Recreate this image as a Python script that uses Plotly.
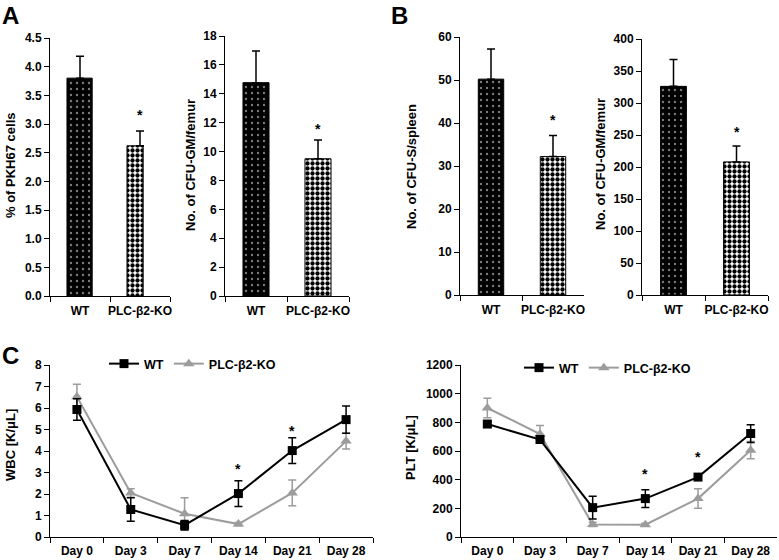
import plotly.graph_objects as go

W, H = 779, 560
FONT = "Liberation Sans, Arial, sans-serif"

# ---------------- data ----------------
groups = ["WT", "PLC-β2-KO"]
pkh67_mean = [3.80, 2.62]
pkh67_err = [0.38, 0.26]
cfugm_a_mean = [14.77, 9.5]
cfugm_a_err = [2.2, 1.3]
cfus_mean = [50.2, 32.2]
cfus_err = [7.0, 4.9]
cfugm_b_mean = [326, 208]
cfugm_b_err = [42, 25]

days = ["Day 0", "Day 3", "Day 7", "Day 14", "Day 21", "Day 28"]
wbc_wt = [5.93, 1.28, 0.55, 2.02, 4.02, 5.46]
wbc_wt_err = [0.5, 0.55, 0.22, 0.6, 0.6, 0.63]
wbc_ko = [6.52, 2.05, 1.08, 0.60, 2.05, 4.46]
wbc_ko_err = [0.58, 0.2, 0.74, 0.08, 0.6, 0.37]
plt_wt = [788, 680, 205, 268, 418, 722]
plt_wt_err = [18, 18, 80, 62, 18, 62]
plt_ko = [900, 718, 88, 86, 268, 606]
plt_ko_err = [68, 60, 15, 10, 68, 60]

# significance stars: (panel, category, value)
bar_stars = [("A1", "PLC-β2-KO", 3.21), ("A2", "PLC-β2-KO", 11.8),
             ("B1", "PLC-β2-KO", 41.5), ("B2", "PLC-β2-KO", 259)]
line_stars = [("C1", "Day 14", 3.3), ("C1", "Day 21", 5.08),
              ("C2", "Day 14", 461), ("C2", "Day 21", 582)]

# ---------------- layout geometry (pixels) ----------------
panels = {
    # name: (axis suffix, x0, x1, ytop, ybottom, ymax, dtick, tickformat, ytitle, title_x, title_y)
    "A1": ("", 50, 170, 38, 296, 4.5, 0.5, ".1f", "% of PKH67 cells", 10, 165),
    "A2": ("2", 225, 349, 36, 296, 18, 2, "d", "No. of CFU-GM/femur", 190, 165),
    "B1": ("3", 460, 584, 37, 295, 60, 10, "d", "No. of CFU-S/spleen", 411, 167),
    "B2": ("4", 642, 768, 39, 295, 400, 50, "d", "No. of CFU-GM/femur", 600, 164),
    "C1": ("5", 50, 373, 365, 537, 8, 1, "d", "WBC [K/μL]", 10, 445),
    "C2": ("6", 461, 777, 365, 537, 1200, 200, "d", "PLT [K/μL]", 410, 448),
}

tickfont = dict(family=FONT, size=12, color="black", weight="bold")
fig = go.Figure()

layout = dict(
    width=W, height=H, margin=dict(l=0, r=0, t=0, b=0, pad=0, autoexpand=False),
    paper_bgcolor="white", plot_bgcolor="white",
    barmode="overlay", font=dict(family=FONT, color="black"),
)
annotations = []

for name, (s, x0, x1, yt, yb, ymax, dt, tf, ytitle, tx, ty) in panels.items():
    ncat = 2 if name[0] in "AB" else 6
    layout["xaxis" + s] = dict(
        domain=[x0 / W, x1 / W], anchor="y" + s, type="category",
        range=[-0.5, ncat - 0.5], tickson="boundaries", tickangle=0,
        showline=True, linecolor="black", linewidth=1,
        ticks="outside", ticklen=5, tickcolor="black", automargin=False,
        ticklabelstandoff=4 if ncat == 2 else 3,
        showgrid=False, zeroline=False, tickfont=tickfont, fixedrange=True,
    )
    layout["yaxis" + s] = dict(
        domain=[1 - yb / H, 1 - yt / H], anchor="x" + s,
        range=[0, ymax], dtick=dt, tick0=0, tickformat=tf,
        showline=True, linecolor="black", linewidth=1, automargin=False,
        ticks="outside", ticklen=5, tickcolor="black",
        showgrid=False, zeroline=False, tickfont=tickfont, fixedrange=True,
    )
    annotations.append(dict(
        text=ytitle, x=tx / W, y=1 - ty / H, xref="paper", yref="paper",
        textangle=-90, showarrow=False, xanchor="center", yanchor="middle",
        font=dict(family=FONT, size=13, color="black", weight="bold"),
    ))

# ---------------- bar panels ----------------
bar_data = {
    "A1": (pkh67_mean, pkh67_err, [0.42, 0.27], [-0.217, -0.217]),
    "A2": (cfugm_a_mean, cfugm_a_err, [0.42, 0.42], [-0.21, -0.21]),
    "B1": (cfus_mean, cfus_err, [0.41, 0.41], [-0.205, -0.205]),
    "B2": (cfugm_b_mean, cfugm_b_err, [0.41, 0.41], [-0.205, -0.205]),
}
patterns = [
    dict(shape=".", bgcolor="black", fgcolor="#7a7a7a", size=6, solidity=0.12, fillmode="replace"),
    dict(shape=".", bgcolor="white", fgcolor="black", size=5, solidity=0.58, fillmode="replace"),
]
for name, (means, errs, widths, offsets) in bar_data.items():
    s = panels[name][0]
    for i, g in enumerate(groups):
        fig.add_trace(go.Bar(
            x=[g], y=[means[i]], width=[widths[i]], offset=[offsets[i]],
            marker=dict(color="black" if i == 0 else "white",
                        line=dict(color="black", width=1), pattern=patterns[i]),
            xaxis="x" + s, yaxis="y" + s, showlegend=False, hoverinfo="skip",
        ))
    fig.add_trace(go.Scatter(
        x=groups, y=means, mode="markers",
        marker=dict(size=1, color="rgba(0,0,0,0)"),
        error_y=dict(type="data", symmetric=False, array=errs, arrayminus=[0, 0],
                     color="black", thickness=1.5, width=4),
        xaxis="x" + s, yaxis="y" + s, showlegend=False, hoverinfo="skip",
    ))

# ---------------- line panels ----------------
GREY = "#9c9c9c"
line_data = {
    "C1": (wbc_wt, wbc_wt_err, wbc_ko, wbc_ko_err, "legend"),
    "C2": (plt_wt, plt_wt_err, plt_ko, plt_ko_err, "legend2"),
}
for name, (wt, wte, ko, koe, lg) in line_data.items():
    s = panels[name][0]
    fig.add_trace(go.Scatter(
        x=days, y=ko, mode="lines+markers", name="PLC-β2-KO",
        line=dict(color=GREY, width=2),
        marker=dict(symbol="triangle-up", size=10, color=GREY),
        error_y=dict(type="data", array=koe, color=GREY, thickness=1.5, width=4),
        xaxis="x" + s, yaxis="y" + s, legend=lg, legendrank=2,
    ))
    fig.add_trace(go.Scatter(
        x=days, y=wt, mode="lines+markers", name="WT",
        line=dict(color="black", width=2),
        marker=dict(symbol="square", size=9, color="black"),
        error_y=dict(type="data", array=wte, color="black", thickness=1.5, width=4),
        xaxis="x" + s, yaxis="y" + s, legend=lg, legendrank=1,
    ))

legend_common = dict(
    orientation="h", xanchor="left", yanchor="middle",
    bgcolor="rgba(0,0,0,0)", font=dict(family=FONT, size=12.5, color="black", weight="bold"),
    itemwidth=30, tracegroupgap=0, traceorder="normal",
)
layout["legend"] = dict(legend_common, x=104 / W, y=1 - 364 / H)
layout["legend2"] = dict(legend_common, x=519 / W, y=1 - 368 / H)

# ---------------- stars ----------------
for name, cat, val in bar_stars + line_stars:
    s = panels[name][0]
    annotations.append(dict(
        text="*", x=cat, y=val, xref="x" + s, yref="y" + s, showarrow=False,
        yanchor="middle", yshift=-3,
        font=dict(family=FONT, size=14, color="black", weight="bold"),
    ))

# ---------------- panel letters ----------------
for letter, px, py in [("A", 10, 15), ("B", 399, 15), ("C", 10, 355)]:
    annotations.append(dict(
        text=letter, x=px / W, y=1 - py / H, xref="paper", yref="paper",
        showarrow=False, xanchor="center", yanchor="middle",
        font=dict(family=FONT, size=24, color="black", weight="bold"),
    ))

layout["annotations"] = annotations
fig.update_layout(**layout)
fig.write_html(
    "out.html",
    config={"displayModeBar": False, "staticPlot": True},
    post_script="document.body.style.margin='0';document.body.style.overflow='hidden';",
)
